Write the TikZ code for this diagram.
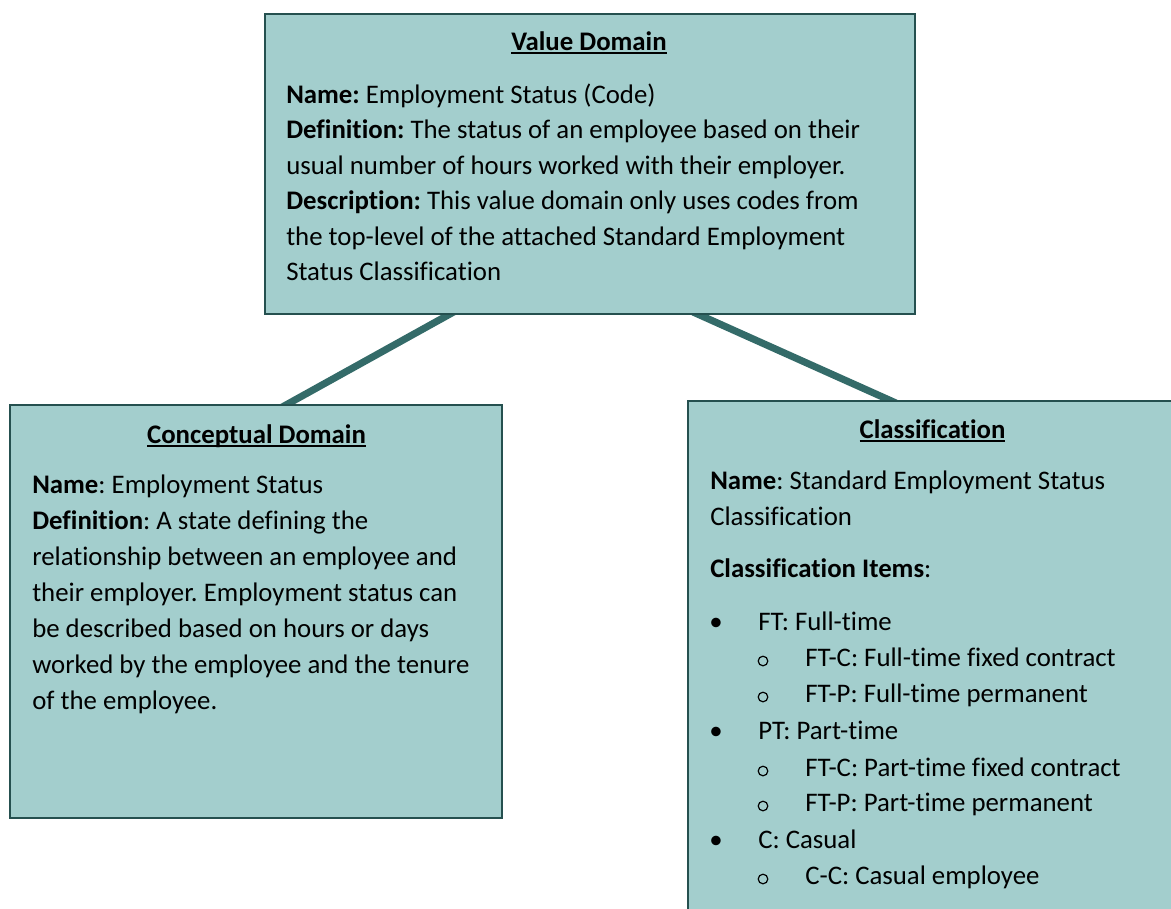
\documentclass[tikz,border=0pt]{standalone}
\usepackage{fontspec}
\setmainfont[Ligatures=NoCommon]{Carlito}
\usetikzlibrary{fit,calc,backgrounds}
\definecolor{boxfill}{HTML}{A3CECD}
\definecolor{boxline}{HTML}{25504F}
\definecolor{connline}{HTML}{346B69}
\newcommand\ulx[1]{\setbox0=\hbox{#1}\rlap{\rule[-0.16em]{\wd0}{0.075em}}\box0}
\newcommand\bodyfont{\fontsize{20.1}{26.7}\selectfont}
\tikzset{
  box/.style={draw=boxline, fill=boxfill, line width=1.9pt, inner sep=0pt},
  conn/.style={draw=connline, line width=5.3pt},
  txt/.style={anchor=base west, inner sep=0pt, font=\bodyfont},
  ttl/.style={anchor=base, inner sep=0pt, font=\bodyfont\bfseries},
  bul/.style={anchor=base, inner sep=0pt, font=\bodyfont},
  sub/.style={circle, draw=black, line width=0.9pt, inner sep=0pt, minimum size=7.2pt},
}
\begin{document}
\frenchspacing
\begin{tikzpicture}[x=0.75pt,y=-0.75pt]
\useasboundingbox (0,0) rectangle (1171,908);
% boxes
\node[box, fit={(265,14) (915,314)}] (vd) {};
\node[box, fit={(10,405) (502,818)}] (cd) {};
\node[box, fit={(688,401) (1178,940)}] (cl) {};
% connectors
\coordinate (a1) at ($(vd.south west)!0.282!(vd.south east)$);
\coordinate (a2) at ($(cd.north west)!0.565!(cd.north east)$);
\coordinate (b1) at ($(vd.south west)!0.669!(vd.south east)$);
\coordinate (b2) at ($(cl.north west)!0.41!(cl.north east)$);
\begin{pgfonlayer}{background}
\draw[conn, shorten <=-6pt, shorten >=-6pt] (a1) -- (a2);
\draw[conn, shorten <=-6pt, shorten >=-6pt] (b1) -- (b2);
\end{pgfonlayer}
% value domain
\node[ttl] (vt) at (589,50) {\ulx{Value Domain}};
\node[txt] (v1) at (286,103) {\textbf{Name:} Employment Status (Code)};
\node[txt] (v2) at (286,138.5) {\textbf{Definition:} The status of an employee based on their};
\node[txt] (v3) at (286,174) {usual number of hours worked with their employer.};
\node[txt] (v4) at (286,209.5) {\textbf{Description:} This value domain only uses codes from};
\node[txt] (v5) at (286,245) {the top-level of the attached Standard Employment};
\node[txt] (v6) at (286,280.5) {Status Classification};
% conceptual domain
\node[ttl] (ct) at (256.5,443) {\ulx{Conceptual Domain}};
\node[txt] (c1) at (32,493) {\textbf{Name}: Employment Status};
\node[txt] (c2) at (32,529) {\textbf{Definition}: A state defining the};
\node[txt] (c3) at (32,565) {relationship between an employee and};
\node[txt] (c4) at (32,601) {their employer. Employment status can};
\node[txt] (c5) at (32,637) {be described based on hours or days};
\node[txt] (c6) at (32,673) {worked by the employee and the tenure};
\node[txt] (c7) at (32,709) {of the employee.};
% classification
\node[ttl] (lt) at (932.5,438) {\ulx{Classification}};
\node[txt] (l1) at (710,489) {\textbf{Name}: Standard Employment Status};
\node[txt] (l2) at (710,525) {Classification};
\node[txt] (l3) at (710,577) {\textbf{Classification Items}:};
\node[bul] (p1) at (716,630) {•};
\node[txt] (i1) at (758,630) {FT: Full-time};
\node[sub] (q1) at (763,661) {};
\node[txt] (i2) at (805,666) {FT-C: Full-time fixed contract};
\node[sub] (q2) at (763,697) {};
\node[txt] (i3) at (805,702) {FT-P: Full-time permanent};
\node[bul] (p2) at (716,739) {•};
\node[txt] (i4) at (758,739) {PT: Part-time};
\node[sub] (q3) at (763,771) {};
\node[txt] (i5) at (805,776) {FT-C: Part-time fixed contract};
\node[sub] (q4) at (763,806) {};
\node[txt] (i6) at (805,811) {FT-P: Part-time permanent};
\node[bul] (p3) at (716,848) {•};
\node[txt] (i7) at (758,848) {C: Casual};
\node[sub] (q5) at (763,879) {};
\node[txt] (i8) at (805,884) {C-C: Casual employee};
\end{tikzpicture}
\end{document}
